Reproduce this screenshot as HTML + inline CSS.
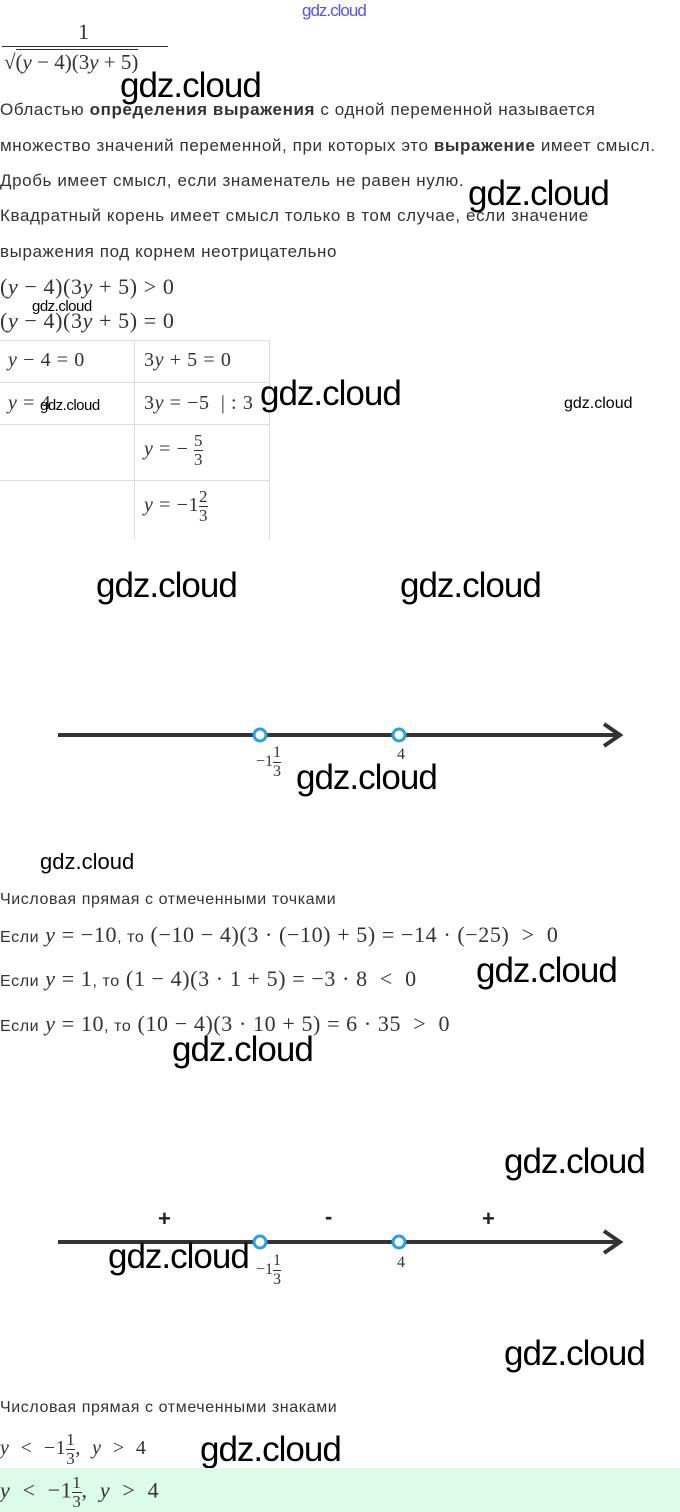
<!DOCTYPE html>
<html><head><meta charset="utf-8"><style>
body{margin:0;width:680px;height:1512px;background:#fff;position:relative;overflow:hidden;font-family:"Liberation Sans",sans-serif;color:#222}
.a{position:absolute;white-space:nowrap}
.t{font-size:17px;color:#333;letter-spacing:0.6px}
.m{font-family:"Liberation Serif",serif;font-size:22px;color:#333;letter-spacing:0.6px}
.w{font-family:"Liberation Sans",sans-serif;font-size:35px;color:#000;letter-spacing:-1px}
.ws{font-family:"Liberation Sans",sans-serif;font-size:15px;color:#000;letter-spacing:-0.5px}
i{font-style:italic}
.fr{display:inline-block;vertical-align:middle;text-align:center;font-size:17px;line-height:18px}
.fr span{display:block}
.fr .n{border-bottom:1px solid #333}
</style></head><body>
<div class="a" style="left:302px;top:1px;font-size:17px;color:#55e;letter-spacing:-1px">gdz.cloud</div>
<div class="a m" style="left:78px;top:19px">1</div>
<div class="a" style="left:2px;top:46px;width:166px;border-top:1px solid #333"></div>
<div class="a m" style="left:4px;top:50px;font-size:21px;letter-spacing:0">√<span style="border-top:1px solid #333">(<i>y</i> − 4)(3<i>y</i> + 5)</span></div>
<div class="a w" style="left:120px;top:66px">gdz.cloud</div>
<div class="a t" style="left:0;top:100px">Областью <b>определения выражения</b> с одной переменной называется</div>
<div class="a t" style="left:0;top:136px">множество значений переменной, при которых это <b>выражение</b> имеет смысл.</div>
<div class="a t" style="left:0;top:171px">Дробь имеет смысл, если знаменатель не равен нулю.</div>
<div class="a w" style="left:468px;top:174px">gdz.cloud</div>
<div class="a t" style="left:0;top:206px">Квадратный корень имеет смысл только в том случае, если значение</div>
<div class="a t" style="left:0;top:242px">выражения под корнем неотрицательно</div>
<div class="a m" style="left:0;top:274px">(<i>y</i> − 4)(3<i>y</i> + 5) &gt; 0</div>
<div class="a ws" style="left:32px;top:298px">gdz.cloud</div>
<div class="a m" style="left:0;top:308px">(<i>y</i> − 4)(3<i>y</i> + 5) = 0</div>
<svg class="a" style="left:0;top:340px" width="272" height="200"><g stroke="#ddd" fill="none"><line x1="0" y1="0.5" x2="270" y2="0.5"/><line x1="0" y1="42.5" x2="270" y2="42.5"/><line x1="0" y1="84.5" x2="270" y2="84.5"/><line x1="0" y1="140.5" x2="270" y2="140.5"/><line x1="134.5" y1="0" x2="134.5" y2="200"/><line x1="269.5" y1="0" x2="269.5" y2="200"/></g></svg>
<div class="a m" style="left:8px;top:349px;font-size:20px"><i>y</i> − 4 = 0</div>
<div class="a m" style="left:144px;top:349px;font-size:20px">3<i>y</i> + 5 = 0</div>
<div class="a m" style="left:8px;top:392px;font-size:20px"><i>y</i> = 4</div>
<div class="a ws" style="left:40px;top:397px">gdz.cloud</div>
<div class="a m" style="left:144px;top:392px;font-size:20px">3<i>y</i> = −5 &nbsp;| : 3</div>
<div class="a w" style="left:260px;top:374px">gdz.cloud</div>
<div class="a" style="left:564px;top:395px;font-size:16px;color:#000">gdz.cloud</div>
<div class="a m" style="left:144px;top:432px;font-size:20px"><i>y</i> = − <span class="fr"><span class="n">5</span><span>3</span></span></div>
<div class="a m" style="left:144px;top:488px;font-size:20px"><i>y</i> = −1<span class="fr"><span class="n">2</span><span>3</span></span></div>
<div class="a w" style="left:96px;top:566px">gdz.cloud</div>
<div class="a w" style="left:400px;top:566px">gdz.cloud</div>
<svg class="a" style="left:0;top:700px" width="680" height="80"><line x1="58" y1="35" x2="618" y2="35" stroke="#333" stroke-width="4"/><polyline points="604,24 620,35 604,46" fill="none" stroke="#333" stroke-width="4"/><circle cx="260" cy="35" r="6" fill="#fff" stroke="#29a3e0" stroke-width="3"/><circle cx="399" cy="35" r="6" fill="#fff" stroke="#29a3e0" stroke-width="3"/></svg>
<div class="a m" style="left:256px;top:744px;font-size:16px;letter-spacing:0">−1<span class="fr" style="font-size:16px"><span class="n">1</span><span>3</span></span></div>
<div class="a m" style="left:397px;top:746px;font-size:16px">4</div>
<div class="a w" style="left:296px;top:758px">gdz.cloud</div>
<div class="a" style="left:40px;top:849px;font-size:22px;color:#000">gdz.cloud</div>
<div class="a t" style="left:0;top:891px;font-size:16px">Числовая прямая с отмеченными точками</div>
<div class="a m" style="left:0;top:922px"><span style="font-family:'Liberation Sans';font-size:16px">Если</span> <i>y</i> = −10<span style="font-family:'Liberation Sans';font-size:16px">, то</span> (−10 − 4)(3 · (−10) + 5) = −14 · (−25) &nbsp;&gt; &nbsp;0</div>
<div class="a w" style="left:476px;top:951px">gdz.cloud</div>
<div class="a m" style="left:0;top:966px"><span style="font-family:'Liberation Sans';font-size:16px">Если</span> <i>y</i> = 1<span style="font-family:'Liberation Sans';font-size:16px">, то</span> (1 − 4)(3 · 1 + 5) = −3 · 8 &nbsp;&lt; &nbsp;0</div>
<div class="a m" style="left:0;top:1011px"><span style="font-family:'Liberation Sans';font-size:16px">Если</span> <i>y</i> = 10<span style="font-family:'Liberation Sans';font-size:16px">, то</span> (10 − 4)(3 · 10 + 5) = 6 · 35 &nbsp;&gt; &nbsp;0</div>
<div class="a w" style="left:172px;top:1030px">gdz.cloud</div>
<div class="a w" style="left:504px;top:1142px">gdz.cloud</div>
<svg class="a" style="left:0;top:1200px" width="680" height="80"><line x1="58" y1="42" x2="618" y2="42" stroke="#333" stroke-width="4"/><polyline points="604,31 620,42 604,53" fill="none" stroke="#333" stroke-width="4"/><circle cx="260" cy="42" r="6" fill="#fff" stroke="#29a3e0" stroke-width="3"/><circle cx="399" cy="42" r="6" fill="#fff" stroke="#29a3e0" stroke-width="3"/></svg>
<div class="a" style="left:158px;top:1206px;font-size:22px;font-weight:bold;color:#222">+</div>
<div class="a" style="left:325px;top:1204px;font-size:22px;font-weight:bold;color:#222">-</div>
<div class="a" style="left:482px;top:1206px;font-size:22px;font-weight:bold;color:#222">+</div>
<div class="a w" style="left:108px;top:1237px">gdz.cloud</div>
<div class="a m" style="left:256px;top:1252px;font-size:16px;letter-spacing:0">−1<span class="fr" style="font-size:16px"><span class="n">1</span><span>3</span></span></div>
<div class="a m" style="left:397px;top:1254px;font-size:16px">4</div>
<div class="a w" style="left:504px;top:1334px">gdz.cloud</div>
<div class="a t" style="left:0;top:1399px;font-size:16px">Числовая прямая с отмеченными знаками</div>
<div class="a w" style="left:200px;top:1430px">gdz.cloud</div>
<div class="a m" style="left:0;top:1431px;font-size:20px"><i>y</i> &nbsp;&lt; &nbsp;−1<span class="fr"><span class="n">1</span><span>3</span></span>, &nbsp;<i>y</i> &nbsp;&gt; &nbsp;4</div>
<div class="a" style="left:0;top:1468px;width:680px;height:44px;background:#dcfbe8"></div>
<div class="a m" style="left:0;top:1474px"><i>y</i> &nbsp;&lt; &nbsp;−1<span class="fr"><span class="n">1</span><span>3</span></span>, &nbsp;<i>y</i> &nbsp;&gt; &nbsp;4</div>
</body></html>
